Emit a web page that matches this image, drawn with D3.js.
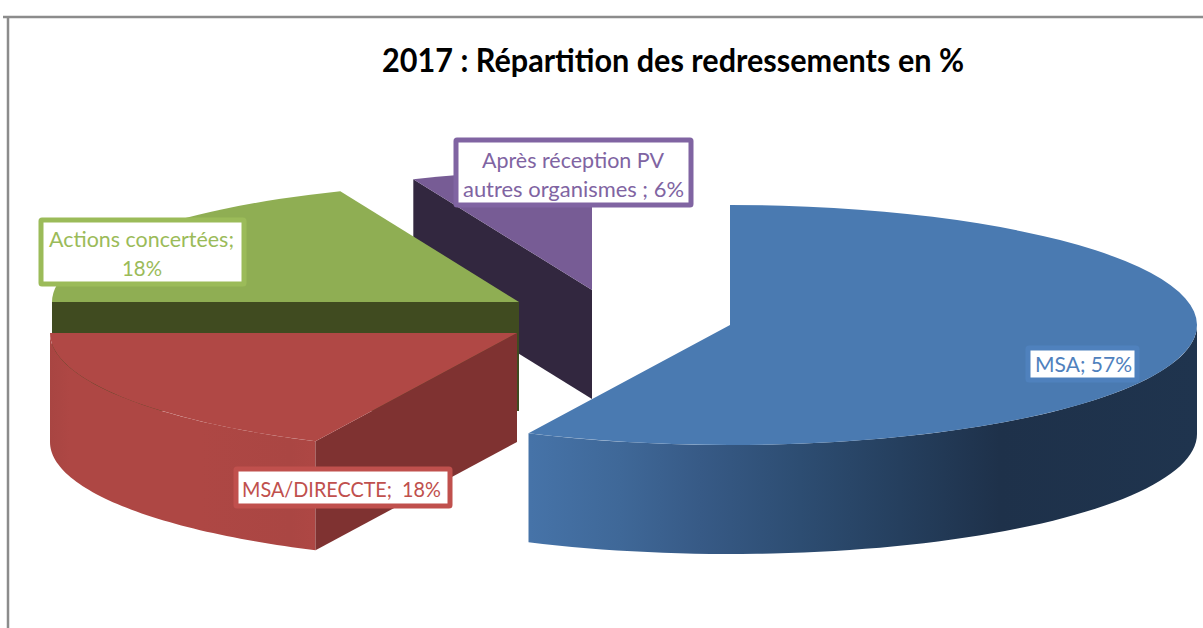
<!DOCTYPE html>
<html><head><meta charset="utf-8">
<script src="https://d3js.org/d3.v7.min.js"></script>
<style>html,body{margin:0;padding:0;background:#fff}svg{display:block}text{font-family:Lato,"Open Sans",sans-serif;white-space:pre}</style>
</head><body><svg id="c" width="1203" height="628"></svg>
<script>
// ---- data ----
const categories = ["MSA","MSA/DIRECCTE","Actions concertées","Après réception PV autres organismes"];
const values = [57.1, 17.9, 18.75, 6.25];
const titleText = "2017 : Répartition des redressements en %";
const labelLines = [["MSA; 57%"],["MSA/DIRECCTE;  18%"],["Actions concertées;","18%"],["Après réception PV","autres organismes ; 6%"]];
// ---- styles / layout ----
const topColors = ["#4a7ab1","#b04845","#8fae53","#775c95"];
const cutColors = ["#2a4468","#7f3231","#404b20","#32273f"];
const labelColors = ["#4f81bd","#c0504d","#9bbb59","#8064a2"];
const apexes = [[730,325],[517,333],[519,302],[592,290]];
const Rx = 467, Ry = 120, depth = 109;
const boxes = [
 {x:1028,y:348,w:109,h:32,sw:5,lines:[{x:1035,y:372,l:97}]},
 {x:236,y:469,w:214,h:37,sw:5,lines:[{x:242,y:497,l:199}]},
 {x:41,y:220,w:203,h:64,sw:5,lines:[{x:49,y:247,l:185},{x:122,y:276,l:40}]},
 {x:456,y:140,w:235,h:65,sw:5,lines:[{x:482,y:168,l:182},{x:463,y:197,l:221}]}
];
const wallGradients = [
 [[530,"#4673a8"],[620,"#3f6898"],[700,"#375a86"],[800,"#2d4d72"],[900,"#253f5e"],[1000,"#1e314a"],[1197,"#1f344e"]],
 [[49,"#a84542"],[70,"#ae4744"],[200,"#ae4744"],[290,"#aa4643"],[316,"#ae4744"]]
];
const svg = d3.select("#c");
const defs = svg.append("defs");
wallGradients.forEach((stops,i)=>{
  const x0=stops[0][0], x1=stops[stops.length-1][0], t=d3.scaleLinear([x0,x1],[0,1]);
  const g=defs.append("linearGradient").attr("id","wall"+i).attr("gradientUnits","userSpaceOnUse")
    .attr("x1",x0).attr("x2",x1).attr("y1",0).attr("y2",0);
  stops.forEach(s=>g.append("stop").attr("offset",t(s[0])).attr("stop-color",s[1]));
});
// frame
svg.append("path").attr("d","M8 628V17H1203M3 17H8").attr("fill","none").attr("stroke","#8c8c8c").attr("stroke-width",2.5);
// title
svg.append("text").attr("x",382).attr("y",72).attr("font-size",32).attr("font-weight",700).attr("fill","#000")
  .attr("textLength",582).attr("lengthAdjust","spacingAndGlyphs").text(titleText);

const arcs = d3.pie().sort(null).value(d=>d)(values);
const arcGen = d3.arc().innerRadius(0).outerRadius(Rx);
const pt = (i,a,dz=0)=>[apexes[i][0]+Rx*Math.sin(a), apexes[i][1]-Ry*Math.cos(a)+dz];
const line = d3.line();
// back to front: purple, green, red, blue
[3,2,1,0].forEach(i=>{
  const d=arcs[i], g=svg.append("g");
  const [cx,cy]=apexes[i];
  // outer wall: the front half only (between 90° and 270°)
  const a0=Math.max(d.startAngle,Math.PI/2), a1=Math.min(d.endAngle,3*Math.PI/2);
  if(a1>a0){
    const as=d3.range(0,61).map(k=>a0+(a1-a0)*k/60);
    const pts=as.map(a=>pt(i,a)).concat(as.slice().reverse().map(a=>pt(i,a,depth)));
    g.append("path").attr("d",line(pts)+"Z").attr("fill",wallGradients[i]?`url(#wall${i})`:cutColors[i]);
  }
  // visible radial cut face
  const cut=a=>line([[cx,cy],pt(i,a),pt(i,a,depth),[cx,cy+depth]])+"Z";
  if(Math.sin(d.startAngle)<-1e-6) g.append("path").attr("d",cut(d.startAngle)).attr("fill",cutColors[i]);
  if(Math.sin(d.endAngle)>1e-6) g.append("path").attr("d",cut(d.endAngle)).attr("fill",cutColors[i]);
  // top face
  g.append("path").attr("d",arcGen(d)).attr("transform",`translate(${cx},${cy}) scale(1,${Ry/Rx})`).attr("fill",topColors[i]);
});
// labels
labelLines.forEach((ls,i)=>{
  const b=boxes[i];
  svg.append("rect").attr("x",b.x).attr("y",b.y).attr("width",b.w).attr("height",b.h).attr("rx",1)
    .attr("fill","#fff").attr("stroke",labelColors[i]).attr("stroke-width",b.sw);
  ls.forEach((t,k)=>svg.append("text").attr("x",b.lines[k].x).attr("y",b.lines[k].y).attr("font-size",21)
    .attr("fill",labelColors[i]).attr("textLength",b.lines[k].l).attr("lengthAdjust","spacingAndGlyphs").text(t));
});
</script></body></html>
